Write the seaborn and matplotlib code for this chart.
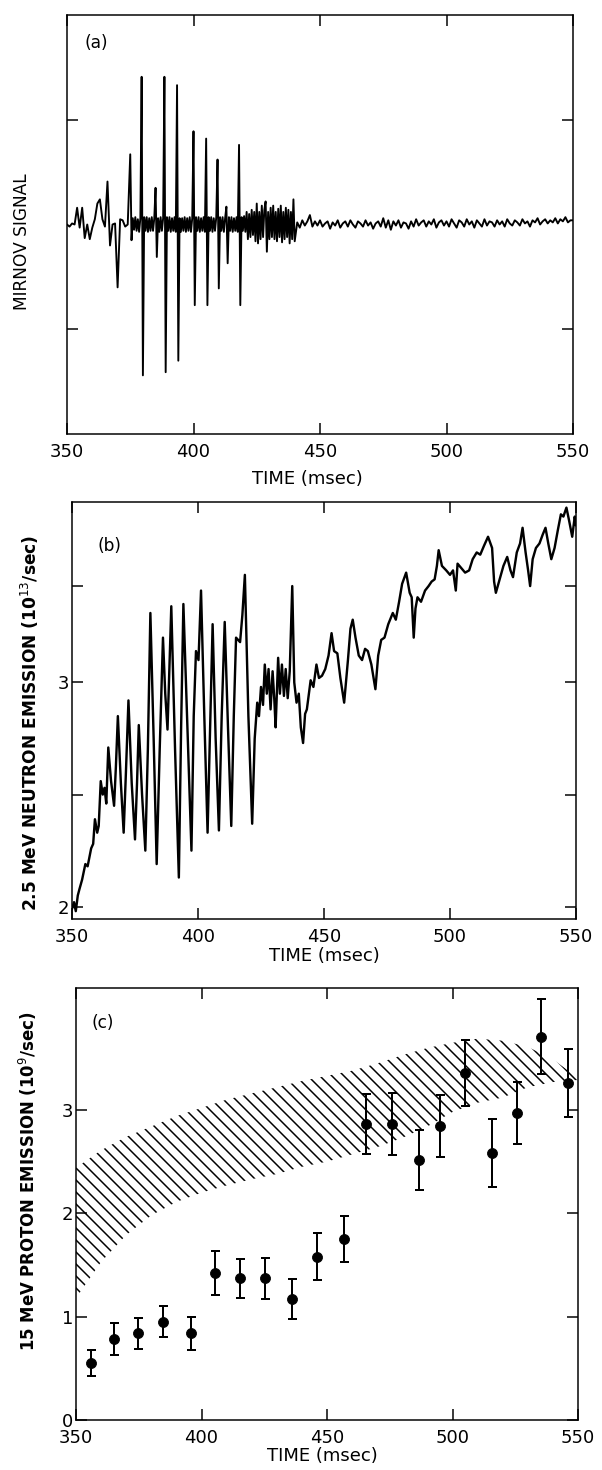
import numpy as np
import matplotlib
matplotlib.use("Agg")
import matplotlib.pyplot as plt
import seaborn as sns

# ---- data ----
# (a) Mirnov signal: 1 ms samples, 0.5 ms in the busy 375-440 ms stretch
time_a = np.concatenate([np.arange(350, 375, 1.0),
                         np.arange(375, 440, 0.5),
                         np.arange(440, 551, 1.0)])
mirnov = [
    # 350 - 374 (1 ms)
    0.00, -0.02, 0.01, 0.00, 0.16, -0.03, 0.16, -0.13, 0.00, -0.14,
    -0.03, 0.05, 0.20, 0.24, 0.05, -0.02, 0.41, -0.20, 0.00, 0.01,
    -0.60, 0.05, 0.04, -0.02, 0.00,
    # 375 - 439.5 (0.5 ms)
    0.67, -0.15, 0.06, -0.05, 0.07, -0.06, 0.05, -0.07, 0.06, 1.41,
    -1.44, 0.07, -0.06, 0.07, -0.07, 0.06, -0.06, 0.07, -0.06, 0.06,
    0.35, -0.31, 0.06, -0.07, 0.07, -0.06, 0.06, 1.41, -1.41, 0.07,
    -0.06, 0.07, -0.07, 0.06, -0.06, 0.07, -0.07, 1.33, -1.30, 0.06,
    -0.07, 0.06, -0.06, 0.07, -0.07, 0.06, -0.06, 0.07, -0.07, 0.06,
    0.89, -0.77, 0.07, -0.06, 0.07, -0.07, 0.06, -0.06, 0.07, -0.07,
    0.82, -0.77, 0.07, -0.06, 0.07, -0.07, 0.06, -0.06, 0.07, 0.62,
    -0.61, 0.07, -0.06, 0.07, -0.07, 0.06, 0.17, -0.37, 0.07, -0.06,
    0.07, -0.07, 0.06, -0.06, 0.07, -0.07, 0.76, -0.77, 0.07, -0.06,
    0.08, -0.07, 0.12, -0.14, 0.10, -0.12, 0.14, -0.10, 0.12, -0.16,
    0.20, -0.18, 0.12, -0.14, 0.18, -0.12, 0.14, 0.22, -0.26, 0.12,
    -0.14, 0.16, -0.12, 0.18, -0.14, 0.12, -0.16, 0.15, -0.12, 0.18,
    -0.17, 0.12, -0.14, 0.16, -0.12, 0.14, -0.18, 0.12, -0.14, 0.24,
    # 440 - 550 (1 ms)
    -0.16, 0.02, -0.03, 0.04, -0.01, 0.03, 0.09, -0.02, 0.03, -0.01,
    0.04, -0.02, 0.01, 0.03, -0.04, 0.02, -0.01, 0.04, -0.03, 0.01,
    0.03, -0.02, 0.04, 0.00, -0.03, 0.03, 0.01, -0.02, 0.04, -0.01,
    0.02, -0.04, 0.01, 0.03, -0.02, 0.06, -0.03, 0.04, -0.05, 0.03,
    -0.01, 0.04, -0.03, 0.02, 0.01, -0.04, 0.03, -0.02, 0.05, -0.01,
    0.02, 0.04, -0.02, 0.03, 0.00, 0.05, -0.03, 0.02, 0.04, -0.01,
    0.03, -0.02, 0.05, 0.01, -0.03, 0.04, 0.02, -0.02, 0.05, 0.00,
    0.03, -0.03, 0.04, 0.01, -0.02, 0.05, -0.01, 0.03, 0.02, -0.02,
    0.04, 0.00, 0.03, -0.02, 0.05, 0.01, -0.01, 0.04, 0.02, -0.01,
    0.05, 0.01, 0.03, -0.02, 0.04, 0.02, 0.06, 0.00, 0.03, 0.05,
    0.01, 0.04, 0.02, 0.06, 0.01, 0.05, 0.03, 0.07, 0.02, 0.04,
    0.04,
]

# (b) 2.5 MeV neutron emission (1e13/sec)
time_b = [
    350, 350.8, 351.5, 352.3, 353, 354, 355.3, 356.2, 357.6, 358.4,
    359.1, 360.0, 360.6, 361.4, 362.2, 362.9, 363.6, 364.4, 365.5, 366.7,
    367.4, 368.2, 369.4, 370.5, 371.4, 372.4, 373.7, 375.0, 375.8, 376.5,
    377.8, 379.1, 380.1, 381.1, 382.4, 383.6, 384.8, 386.1, 387.0, 387.9,
    388.6, 389.4, 390.9, 392.4, 393.3, 394.2, 395.8, 397.4, 398.3, 399.2,
    400.2, 401.2, 402.5, 403.8, 404.8, 405.8, 407.0, 408.3, 409.4, 410.6,
    411.9, 413.2, 414.2, 415.1, 416.7, 417.6, 418.6, 420.0, 421.5, 422.5,
    423.5, 424.2, 425.0, 425.8, 426.5, 427.3, 428.0, 428.8, 429.6, 430.3,
    430.8, 431.8, 432.5, 433.3, 434.1, 434.8, 435.6, 436.4, 437.4, 438.2,
    439.1, 440.0, 440.8, 441.7, 442.5, 443.2, 444.7, 445.8, 447.0, 448.0,
    449.2, 450.5, 451.8, 453.0, 454.0, 455.3, 456.5, 458.0, 459.5, 460.5,
    461.4, 462.5, 463.8, 465.1, 466.3, 467.4, 468.8, 470.4, 471.5, 472.7,
    474.0, 475.5, 477.3, 478.5, 479.8, 481.0, 482.6, 484.0, 484.8, 485.6,
    486.3, 487.1, 488.5, 490.1, 491.5, 492.7, 493.9, 494.8, 495.5, 496.8,
    498.5, 500.0, 501.2, 502.3, 503.0, 504.5, 506.0, 507.6, 509.0, 510.6,
    512.0, 513.5, 515.1, 516.7, 517.5, 518.2, 519.7, 521.2, 522.7, 524.0,
    525.0, 526.5, 527.8, 528.8, 530.0, 531.0, 531.8, 532.8, 534.1, 535.5,
    536.8, 537.9, 539.0, 540.2, 541.5, 542.8, 544.0, 545.0, 546.2, 547.3,
    548.5, 549.5, 550.0,
]
neutron = [
    1.99, 2.02, 1.98, 2.05, 2.08, 2.12, 2.19, 2.18, 2.26, 2.28,
    2.39, 2.33, 2.36, 2.56, 2.50, 2.53, 2.46, 2.71, 2.56, 2.45,
    2.62, 2.85, 2.55, 2.33, 2.60, 2.92, 2.55, 2.30, 2.55, 2.81,
    2.50, 2.25, 2.70, 3.31, 2.75, 2.19, 2.70, 3.20, 2.95, 2.79,
    3.05, 3.34, 2.70, 2.13, 2.80, 3.35, 2.80, 2.25, 2.85, 3.14,
    3.10, 3.41, 2.85, 2.33, 2.80, 3.26, 2.75, 2.34, 2.85, 3.27,
    2.80, 2.36, 2.85, 3.20, 3.18, 3.30, 3.48, 2.85, 2.37, 2.75,
    2.91, 2.85, 2.98, 2.90, 3.08, 2.95, 3.06, 2.88, 3.05, 2.92,
    2.80, 3.11, 2.95, 3.08, 2.94, 3.06, 2.93, 3.05, 3.43, 3.00,
    2.91, 2.95, 2.80, 2.73, 2.86, 2.88, 3.01, 2.98, 3.08, 3.02,
    3.03, 3.06, 3.12, 3.22, 3.14, 3.13, 3.02, 2.91, 3.10, 3.24,
    3.28, 3.20, 3.12, 3.10, 3.15, 3.14, 3.08, 2.97, 3.12, 3.19,
    3.20, 3.26, 3.31, 3.28, 3.36, 3.44, 3.49, 3.40, 3.38, 3.20,
    3.33, 3.38, 3.36, 3.41, 3.43, 3.45, 3.46, 3.52, 3.59, 3.52,
    3.50, 3.48, 3.50, 3.41, 3.53, 3.51, 3.49, 3.50, 3.55, 3.58,
    3.57, 3.61, 3.65, 3.60, 3.45, 3.40, 3.46, 3.52, 3.56, 3.50,
    3.47, 3.58, 3.62, 3.69, 3.58, 3.50, 3.43, 3.55, 3.60, 3.62,
    3.66, 3.69, 3.62, 3.55, 3.60, 3.68, 3.75, 3.74, 3.78, 3.72,
    3.65, 3.74, 3.70,
]

# (c) 15 MeV proton emission (1e9/sec) with error bars
time_c = [355.8, 365.2, 374.8, 384.6, 395.8, 405.3, 415.3, 425.1, 436.2, 446.1,
          456.8, 465.5, 475.7, 486.8, 494.9, 505.1, 515.7, 525.5, 535.1, 545.9]
proton = [0.55, 0.78, 0.84, 0.95, 0.84, 1.42, 1.37, 1.37, 1.17, 1.58,
          1.75, 2.86, 2.86, 2.52, 2.84, 3.36, 2.58, 2.97, 3.71, 3.26]
proton_err = [0.125, 0.155, 0.15, 0.15, 0.16, 0.215, 0.19, 0.2, 0.19, 0.225,
              0.22, 0.29, 0.3, 0.29, 0.3, 0.32, 0.33, 0.3, 0.36, 0.325]

# hatched prediction band
band_t = [350, 360, 370, 380, 390, 400, 410, 420, 430, 440, 450,
          460, 470, 480, 490, 500, 510, 520, 530, 540, 550]
band_hi = [2.44, 2.61, 2.74, 2.84, 2.94, 3.02, 3.10, 3.16, 3.22, 3.28, 3.33,
           3.38, 3.45, 3.53, 3.60, 3.65, 3.69, 3.67, 3.61, 3.49, 3.31]
band_lo = [1.18, 1.53, 1.79, 1.98, 2.11, 2.20, 2.27, 2.33, 2.38, 2.45, 2.50,
           2.57, 2.64, 2.73, 2.84, 2.98, 3.07, 3.12, 3.22, 3.27, 3.29]

time_ticks = [350, 400, 450, 500, 550]

# ---- style ----
sns.set_theme(style="ticks")
plt.rcParams["font.family"] = ["DejaVu Sans"]
plt.rcParams["hatch.linewidth"] = 1.5
plt.rcParams["axes.linewidth"] = 1.5
for k in ["text.color", "axes.labelcolor", "xtick.color", "ytick.color",
          "axes.edgecolor"]:
    plt.rcParams[k] = "black"

W, H = 602, 1470
fig = plt.figure(figsize=(W / 72, H / 72), dpi=72)


def box(l, r, t, b):
    return [l / W, 1 - b / H, (r - l) / W, (b - t) / H]


def frame(ax):
    ax.set_xlim(350, 550)
    ax.set_xticks(time_ticks)
    ax.set_xticklabels([str(t) for t in time_ticks], fontsize=18)
    ax.tick_params(direction="in", top=True, right=True, length=11,
                   width=1.5, color="black", labelcolor="black")
    ax.tick_params(axis="x", pad=9)
    ax.tick_params(axis="y", pad=3)
    for s in ax.spines.values():
        s.set_color("black")
        s.set_linewidth(1.5)
    ax.set_xlabel("TIME (msec)", fontsize=18, color="black")


# (a) Mirnov signal
ax1 = fig.add_axes(box(67, 573, 15, 434))
sns.lineplot(x=time_a, y=mirnov, ax=ax1, color="black", lw=1.9,
             estimator=None, sort=False)
frame(ax1)
ax1.set_ylim(-2, 2)
ax1.set_yticks([-1, 1])
ax1.set_yticklabels([])
ax1.set_ylabel("MIRNOV SIGNAL", fontsize=17, color="black")
ax1.yaxis.set_label_coords(-0.072, 0.46)
ax1.xaxis.set_label_coords(0.476, -0.085)
ax1.text(0.034, 0.955, "(a)", transform=ax1.transAxes, fontsize=17,
         va="top", ha="left")

# (b) neutron emission
ax2 = fig.add_axes(box(72, 576, 502, 919))
sns.lineplot(x=time_b, y=neutron, ax=ax2, color="black", lw=2.4,
             estimator=None, sort=False)
frame(ax2)
ax2.set_ylim(1.945, 3.805)
ax2.set_yticks([2, 2.5, 3, 3.43])
ax2.set_yticklabels(["2", "", "3", ""], fontsize=18)
ax2.set_ylabel("2.5 MeV NEUTRON EMISSION (10$^{13}$/sec)", fontsize=17,
               fontweight="bold", color="black")
ax2.yaxis.set_label_coords(-0.062, 0.47)
ax2.xaxis.set_label_coords(0.5, -0.068)
ax2.text(0.05, 0.915, "(b)", transform=ax2.transAxes, fontsize=17,
         va="top", ha="left")

# (c) proton emission
ax3 = fig.add_axes(box(76, 578, 988, 1420))
ax3.fill_between(band_t, band_lo, band_hi, facecolor="none",
                 edgecolor="black", hatch="\\\\", linewidth=0)
ax3.errorbar(time_c, proton, yerr=proton_err, fmt="none", ecolor="black",
             elinewidth=2, capsize=4.5, capthick=2)
sns.scatterplot(x=time_c, y=proton, ax=ax3, color="black", s=100,
                edgecolor="black", zorder=3)
frame(ax3)
ax3.set_ylim(0, 4.18)
ax3.set_yticks([0, 1, 2, 3])
ax3.set_yticklabels(["0", "1", "2", "3"], fontsize=18)
ax3.set_ylabel("15 MeV PROTON EMISSION (10$^{9}$/sec)", fontsize=16.5,
               fontweight="bold", color="black")
ax3.yaxis.set_label_coords(-0.074, 0.553)
ax3.xaxis.set_label_coords(0.49, -0.062)
ax3.text(0.03, 0.94, "(c)", transform=ax3.transAxes, fontsize=17,
         va="top", ha="left")

fig.savefig("out.png", dpi=72)
